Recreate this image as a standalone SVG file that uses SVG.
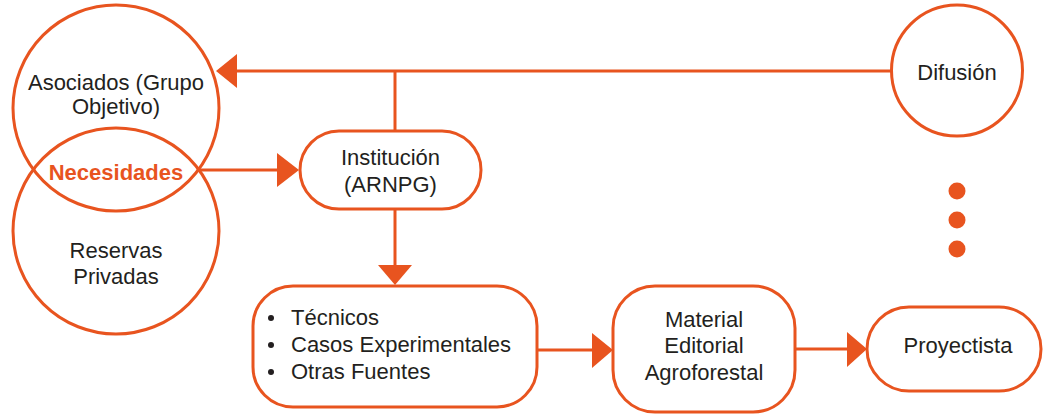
<svg xmlns="http://www.w3.org/2000/svg" width="1043" height="416" viewBox="0 0 1043 416">
<style>
.s{fill:none;stroke:#E8541F;stroke-width:3}
.n{fill:#fff;stroke:#E8541F;stroke-width:3}
.t{font-family:"Liberation Sans",Arial,sans-serif;font-size:22px;fill:#231F20;text-anchor:middle}
.tl{font-family:"Liberation Sans",Arial,sans-serif;font-size:22px;fill:#231F20}
.b{font-family:"Liberation Sans",Arial,sans-serif;font-size:22px;font-weight:bold;fill:#E8541F;text-anchor:middle}
.a{fill:#E8541F}
.d{fill:#231F20}
</style>
<rect width="1043" height="416" fill="#fff"/>
<g id="connectors">
<line class="s" x1="236" y1="71" x2="892" y2="71"/>
<polygon class="a" points="216,71 237,54 237,88"/>
<line class="s" x1="395" y1="71" x2="395" y2="131"/>
<line class="s" x1="199" y1="170" x2="279" y2="170"/>
<polygon class="a" points="299,170 277,153 277,187"/>
<line class="s" x1="395" y1="209" x2="395" y2="266"/>
<polygon class="a" points="395,285 378,265 412,265"/>
<line class="s" x1="537" y1="350" x2="593" y2="350"/>
<polygon class="a" points="613,350 592,333 592,368"/>
<line class="s" x1="795" y1="349" x2="848" y2="349"/>
<polygon class="a" points="867,349 847,332 847,367"/>
</g>
<g id="asociados">
<circle class="s" cx="116" cy="108" r="103"/>
<text class="t" x="116" y="90">Asociados (Grupo</text>
<text class="t" x="116" y="114">Objetivo)</text>
</g>
<g id="reservas">
<circle class="s" cx="116" cy="231" r="103"/>
<text class="t" x="116" y="258">Reservas</text>
<text class="t" x="116" y="284">Privadas</text>
</g>
<g id="necesidades">
<text class="b" x="116" y="180">Necesidades</text>
</g>
<g id="institucion">
<rect class="n" x="300" y="131" width="181" height="78" rx="39"/>
<text class="t" x="390.5" y="165">Institución</text>
<text class="t" x="390.5" y="192">(ARNPG)</text>
</g>
<g id="fuentes">
<rect class="n" x="253" y="286" width="284" height="121" rx="40"/>
<circle class="d" cx="271" cy="318" r="3"/>
<circle class="d" cx="271" cy="345" r="3"/>
<circle class="d" cx="271" cy="372" r="3"/>
<text class="tl" x="291" y="325">Técnicos</text>
<text class="tl" x="291" y="352">Casos Experimentales</text>
<text class="tl" x="291" y="379">Otras Fuentes</text>
</g>
<g id="material">
<rect class="n" x="613" y="286" width="182" height="126" rx="42"/>
<text class="t" x="704" y="327">Material</text>
<text class="t" x="704" y="353">Editorial</text>
<text class="t" x="704" y="380">Agroforestal</text>
</g>
<g id="difusion">
<circle class="n" cx="957" cy="70.5" r="65.5"/>
<text class="t" x="957" y="80">Difusión</text>
</g>
<g id="dots">
<circle class="a" cx="957" cy="191" r="8.5"/>
<circle class="a" cx="957" cy="220" r="8.5"/>
<circle class="a" cx="957" cy="249" r="8.5"/>
</g>
<g id="proyectista">
<rect class="n" x="867" y="307" width="174" height="84" rx="42"/>
<text class="t" x="958" y="353">Proyectista</text>
</g>
</svg>
